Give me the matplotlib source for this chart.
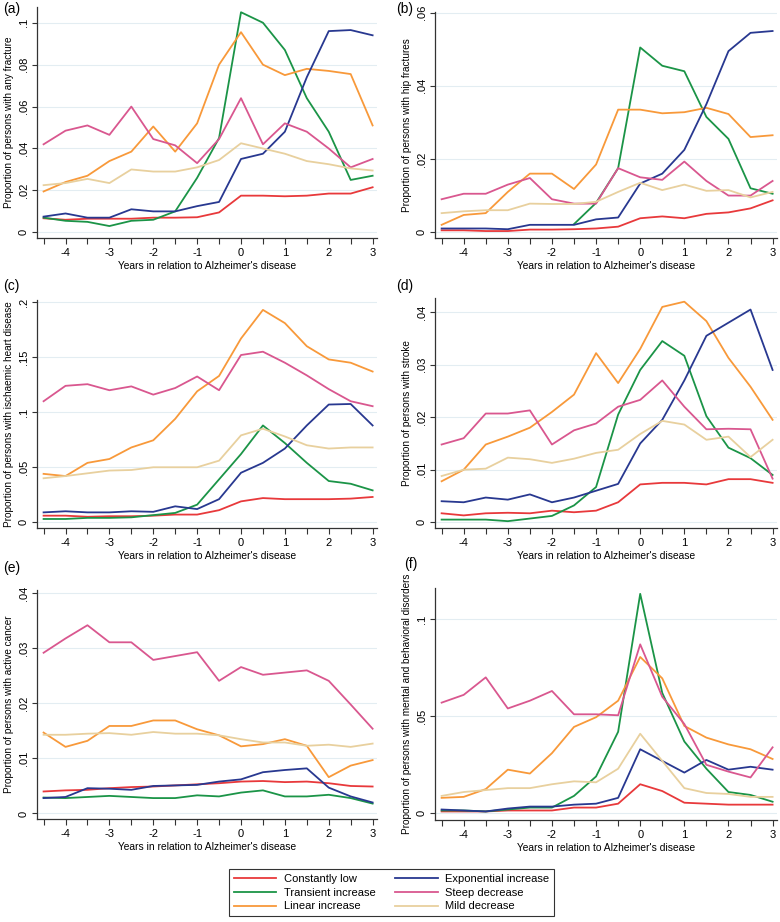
import numpy as np
import matplotlib
matplotlib.use("Agg")
import matplotlib.pyplot as plt

plt.rcParams['font.family'] = ['Liberation Sans', 'DejaVu Sans']

years = [-4.5, -4, -3.5, -3, -2.5, -2, -1.5, -1, -0.5, 0, 0.5, 1, 1.5, 2, 2.5, 3]
groups = ["Constantly low", "Transient increase", "Linear increase",
          "Exponential increase", "Steep decrease", "Mild decrease"]
nan = float('nan')

# (a) any fracture
a_low = [0.0067, 0.006, 0.0065, 0.0065, 0.0065, 0.007, 0.007, 0.0072, 0.0095, 0.0175, 0.0175, 0.0172, 0.0175, 0.0185, 0.0185, 0.0215]
a_trans = [0.007, 0.0055, 0.005, 0.003, 0.0055, 0.006, 0.010, 0.026, 0.045, 0.105, 0.100, 0.087, 0.064, 0.048, 0.025, 0.027]
a_lin = [0.0195, 0.024, 0.027, 0.034, 0.0385, 0.0505, 0.0385, 0.052, 0.080, 0.0955, 0.080, 0.075, 0.078, 0.077, 0.0755, 0.051]
a_exp = [0.0075, 0.009, 0.007, 0.007, 0.011, 0.010, 0.010, 0.0125, 0.0145, 0.035, 0.0375, 0.048, 0.074, 0.096, 0.0965, 0.094]
a_steep = [0.042, 0.0485, 0.051, 0.0465, 0.060, 0.0445, 0.0415, 0.033, 0.0445, 0.064, 0.042, 0.052, 0.048, 0.040, 0.031, 0.035]
a_mild = [0.0225, 0.0235, 0.0255, 0.0235, 0.030, 0.029, 0.029, 0.031, 0.0345, 0.0425, 0.040, 0.0375, 0.034, 0.0325, 0.0305, 0.0295]

# (b) hip fractures
b_low = [0.0005, 0.0005, 0.0003, 0.0003, 0.0007, 0.0007, 0.0008, 0.001, 0.0015, 0.0038, 0.0043, 0.0038, 0.005, 0.0054, 0.0065, 0.0087]
b_trans = [nan, nan, nan, nan, nan, nan, 0.0022, 0.008, 0.0175, 0.0505, 0.0455, 0.044, 0.0315, 0.0255, 0.012, 0.0105]
b_lin = [0.002, 0.0047, 0.0052, 0.011, 0.016, 0.016, 0.0118, 0.0185, 0.0335, 0.0335, 0.0325, 0.0328, 0.034, 0.0323, 0.026, 0.0265]
b_exp = [0.001, 0.001, 0.001, 0.0008, 0.002, 0.002, 0.002, 0.0035, 0.004, 0.0133, 0.016, 0.0225, 0.035, 0.0495, 0.0545, 0.055]
b_steep = [0.009, 0.0105, 0.0105, 0.013, 0.0148, 0.009, 0.0078, 0.0078, 0.0175, 0.015, 0.0143, 0.0193, 0.014, 0.010, 0.010, 0.014]
b_mild = [0.0052, 0.0057, 0.006, 0.006, 0.0078, 0.0077, 0.0077, 0.0083, 0.011, 0.0135, 0.0115, 0.013, 0.0113, 0.0115, 0.0095, 0.011]

# (c) ischaemic heart disease
c_low = [0.006, 0.006, 0.005, 0.0055, 0.0055, 0.006, 0.007, 0.007, 0.011, 0.019, 0.022, 0.021, 0.021, 0.021, 0.0215, 0.023]
c_trans = [0.003, 0.003, 0.004, 0.004, 0.0045, 0.0065, 0.0085, 0.016, 0.039, 0.062, 0.088, 0.072, 0.054, 0.0375, 0.035, 0.029]
c_lin = [0.044, 0.042, 0.054, 0.0575, 0.068, 0.0745, 0.094, 0.119, 0.133, 0.167, 0.193, 0.181, 0.160, 0.148, 0.145, 0.137]
c_exp = [0.009, 0.010, 0.009, 0.009, 0.010, 0.0095, 0.0145, 0.012, 0.021, 0.045, 0.054, 0.067, 0.088, 0.107, 0.1075, 0.088]
c_steep = [0.110, 0.124, 0.1255, 0.120, 0.1235, 0.116, 0.122, 0.1325, 0.120, 0.152, 0.155, 0.145, 0.1335, 0.121, 0.110, 0.1055]
c_mild = [0.040, 0.042, 0.0445, 0.047, 0.0475, 0.050, 0.050, 0.050, 0.056, 0.079, 0.085, 0.078, 0.070, 0.067, 0.068, 0.068]

# (d) stroke
d_low = [0.0017, 0.0013, 0.0017, 0.0018, 0.0017, 0.0022, 0.0019, 0.0022, 0.0038, 0.0072, 0.0075, 0.0075, 0.0072, 0.0082, 0.0082, 0.0075]
d_trans = [0.0005, 0.0005, 0.0005, 0.0002, 0.0007, 0.0012, 0.0032, 0.0067, 0.0205, 0.029, 0.0345, 0.0317, 0.0202, 0.0142, 0.0122, 0.009]
d_lin = [0.0078, 0.0100, 0.0148, 0.0163, 0.018, 0.021, 0.0243, 0.0322, 0.0265, 0.033, 0.041, 0.042, 0.0383, 0.0313, 0.0258, 0.0195]
d_exp = [0.004, 0.0038, 0.0047, 0.0043, 0.0053, 0.0038, 0.0047, 0.006, 0.0073, 0.015, 0.0195, 0.027, 0.0355, 0.038, 0.0405, 0.029]
d_steep = [0.0148, 0.016, 0.0207, 0.0207, 0.0213, 0.0148, 0.0175, 0.0188, 0.022, 0.0233, 0.027, 0.022, 0.0177, 0.0178, 0.0177, 0.0083]
d_mild = [0.0088, 0.010, 0.0102, 0.0123, 0.012, 0.0113, 0.0121, 0.0132, 0.0138, 0.0168, 0.0193, 0.0186, 0.0157, 0.0163, 0.0124, 0.0157]

# (e) active cancer
e_low = [0.004, 0.0042, 0.0043, 0.0046, 0.0048, 0.0049, 0.0051, 0.0053, 0.0055, 0.0058, 0.0059, 0.0057, 0.0058, 0.0055, 0.005, 0.0049]
e_trans = [0.0029, 0.0028, 0.003, 0.0032, 0.003, 0.0028, 0.0028, 0.0033, 0.0031, 0.0038, 0.0042, 0.0031, 0.0031, 0.0034, 0.0028, 0.0018]
e_lin = [0.0147, 0.0121, 0.0132, 0.0159, 0.0159, 0.0169, 0.0169, 0.0153, 0.0142, 0.0122, 0.0126, 0.0135, 0.0123, 0.0066, 0.0087, 0.0097]
e_exp = [0.0028, 0.003, 0.0046, 0.0045, 0.0043, 0.005, 0.0051, 0.0052, 0.0058, 0.0062, 0.0075, 0.0079, 0.0082, 0.0047, 0.0031, 0.002]
e_steep = [0.0292, 0.0318, 0.0342, 0.0311, 0.0311, 0.0279, 0.0286, 0.0293, 0.0241, 0.0266, 0.0252, 0.0256, 0.026, 0.0241, 0.0198, 0.0154]
e_mild = [0.0143, 0.0143, 0.0145, 0.0146, 0.0143, 0.0148, 0.0145, 0.0145, 0.0142, 0.0135, 0.0129, 0.0129, 0.0123, 0.0125, 0.0121, 0.0127]

# (f) mental and behavioral disorders
f_low = [0.001, 0.001, 0.001, 0.0015, 0.0015, 0.0015, 0.003, 0.003, 0.005, 0.015, 0.0115, 0.0055, 0.005, 0.0045, 0.0045, 0.0045]
f_trans = [0.0015, 0.0015, 0.001, 0.002, 0.003, 0.003, 0.009, 0.019, 0.042, 0.113, 0.062, 0.037, 0.023, 0.011, 0.0095, 0.006]
f_lin = [0.008, 0.0085, 0.0125, 0.0225, 0.0205, 0.031, 0.0445, 0.0495, 0.058, 0.0805, 0.0695, 0.045, 0.039, 0.0355, 0.033, 0.028]
f_exp = [0.002, 0.0015, 0.001, 0.0025, 0.0035, 0.0035, 0.0045, 0.005, 0.008, 0.033, 0.027, 0.021, 0.0275, 0.0225, 0.024, 0.0225]
f_steep = [0.057, 0.061, 0.070, 0.054, 0.058, 0.063, 0.051, 0.051, 0.0505, 0.087, 0.060, 0.046, 0.025, 0.0215, 0.0185, 0.034]
f_mild = [0.009, 0.011, 0.012, 0.013, 0.013, 0.015, 0.0165, 0.016, 0.023, 0.041, 0.027, 0.013, 0.0105, 0.010, 0.0085, 0.0085]

ylabels = ["Proportion of persons with any fracture",
           "Proportion of persons with hip fractures",
           "Proportion of persons with ischaemic heart disease",
           "Proportion of persons with stroke",
           "Proportion of persons with active cancer",
           "Proportion of persons with mental and behavioral disorders"]
panel_letters = ["(a)", "(b)", "(c)", "(d)", "(e)", "(f)"]
yticks_list = [[0, 0.02, 0.04, 0.06, 0.08, 0.1],
               [0, 0.02, 0.04, 0.06],
               [0, 0.05, 0.1, 0.15, 0.2],
               [0, 0.01, 0.02, 0.03, 0.04],
               [0, 0.01, 0.02, 0.03, 0.04],
               [0, 0.05, 0.1]]
ytick_labels = [["0", ".02", ".04", ".06", ".08", ".1"],
                ["0", ".02", ".04", ".06"],
                ["0", ".05", ".1", ".15", ".2"],
                ["0", ".01", ".02", ".03", ".04"],
                ["0", ".01", ".02", ".03", ".04"],
                ["0", ".05", ".1"]]
xtick_vals = [-4, -3, -2, -1, 0, 1, 2, 3]
xtick_labels = ["-4", "-3", "-2", "-1", "0", "1", "2", "3"]

panels = [[a_low, a_trans, a_lin, a_exp, a_steep, a_mild],
          [b_low, b_trans, b_lin, b_exp, b_steep, b_mild],
          [c_low, c_trans, c_lin, c_exp, c_steep, c_mild],
          [d_low, d_trans, d_lin, d_exp, d_steep, d_mild],
          [e_low, e_trans, e_lin, e_exp, e_steep, e_mild],
          [f_low, f_trans, f_lin, f_exp, f_steep, f_mild]]

colors = ["#e8393b", "#1b9447", "#f8993a", "#283890", "#d9578f", "#e8d09e"]

W, H = 780, 922
fig = plt.figure(figsize=(W / 100, H / 100), dpi=100)

# axes boxes in pixels: left, right, top, bottom
boxes = [(37, 377, 7, 238), (435, 777, 12, 238),
         (37, 377, 300, 528), (435, 777, 298, 528),
         (37, 377, 590, 819), (435, 777, 588, 820)]
ylims = [(-0.0027, 0.1075), (-0.0016, 0.0602), (-0.0052, 0.202),
         (-0.0011, 0.0427), (-0.001, 0.0406), (-0.0034, 0.116)]
letter_pos = [(3, 9), (396, 9), (3, 286), (396, 286), (3, 568), (404, 564)]

for i in range(6):
    l, r, t, b = boxes[i]
    ax = fig.add_axes([l / W, 1 - b / H, (r - l) / W, (b - t) / H])
    for k in range(6):
        ax.plot(years, panels[i][k], color=colors[k], lw=1.3, label=groups[k])
    ax.set_xlim(-4.65, 3.1)
    ax.set_ylim(*ylims[i])
    ax.set_xticks(years, minor=True)
    ax.set_xticks(xtick_vals)
    ax.set_xticklabels(xtick_labels, fontsize=8)
    ax.tick_params(axis='x', which='both', length=4, width=0.8, color='#333333', pad=3.5)
    ax.set_yticks(yticks_list[i])
    ax.set_yticklabels(ytick_labels[i], fontsize=8, rotation=90, va='center')
    ax.tick_params(axis='y', length=3.5, width=0.8, color='#333333', pad=2.5)
    ax.grid(axis='y', color='#e3edf2', lw=0.8)
    ax.set_axisbelow(True)
    for s in ['top', 'right']:
        ax.spines[s].set_visible(False)
    for s in ['left', 'bottom']:
        ax.spines[s].set_color('#333333')
        ax.spines[s].set_linewidth(0.9)
    ax.set_ylabel(ylabels[i], fontsize=7.2, labelpad=3)
    ax.set_xlabel("Years in relation to Alzheimer's disease", fontsize=7.4, labelpad=2)
    fig.text(letter_pos[i][0] / W, 1 - letter_pos[i][1] / H, panel_letters[i],
             fontsize=10, ha='left', va='center')

handles, labels = ax.get_legend_handles_labels()
leg = fig.legend(handles, labels, loc='center', ncol=2,
                 bbox_to_anchor=(391.5 / W, 1 - 892.5 / H), fontsize=8,
                 frameon=True, fancybox=False, edgecolor='black',
                 handlelength=3.8, handletextpad=0.7, columnspacing=1.8,
                 labelspacing=0.35, borderpad=0.4)
leg.get_frame().set_linewidth(0.8)

fig.savefig("out.png", dpi=100)
